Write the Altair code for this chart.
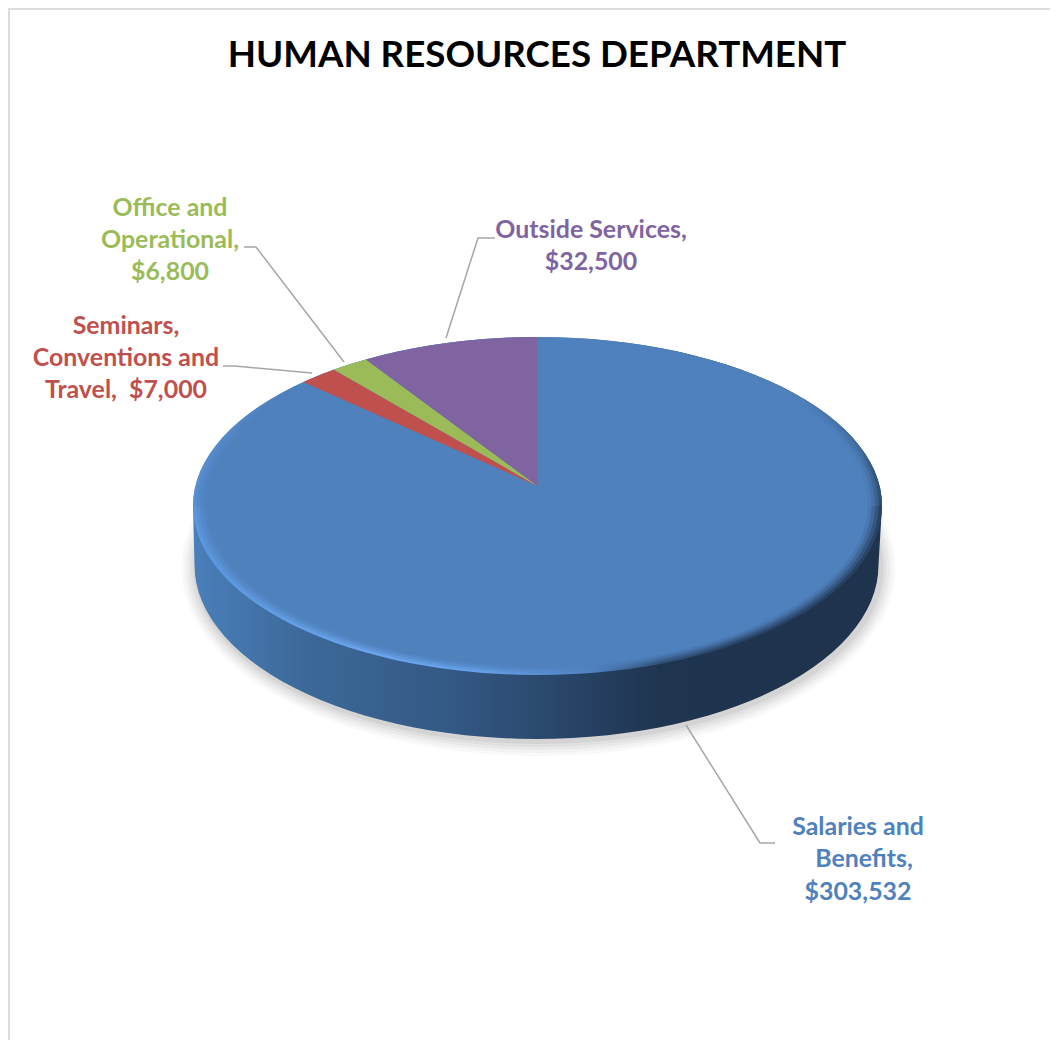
import math
import altair as alt
import pandas as pd

TITLE = "HUMAN RESOURCES DEPARTMENT"
# clockwise from 12 o'clock
categories = ["Salaries and Benefits", "Seminars, Conventions and Travel", "Office and Operational", "Outside Services"]
values = [303532, 7000, 6800, 32500]
colors = ["#4f81bd", "#c0504d", "#9bbb59", "#8064a2"]

label_lines = [
    ["Salaries and", "Benefits,", "$303,532"],
    ["Seminars,", "Conventions and", "Travel, \u00a0$7,000"],
    ["Office and", "Operational,", "$6,800"],
    ["Outside Services,", "$32,500"],
]
label_x = [[858, 864, 858], [126, 126, 126], [170, 170, 170], [591, 591]]
label_y = [[828, 860, 893], [327, 359, 391], [209, 241, 273], [231, 263]]
leaders = [
    [(686, 725), (760, 843), (775, 843)],
    [(223, 366), (235, 366), (312, 373)],
    [(244, 247), (256, 247), (344, 362)],
    [(495, 238), (478, 238), (446, 338)],
]

# Pie geometry: perspective view of a tilted disc
CX, APEX_Y, TOP_CY, RX, RY = 537.5, 486.0, 506.0, 344.5, 169.0
K = 0.118
A = RX * math.sqrt(1 - K * K)
B = 149.0 * (1 + K)
DEPTH_CY, DEPTH_RX, DEPTH_RY = 565.0, 342.0, 174.0


def project(angle_deg, r=1.0):
    a = math.radians(angle_deg)
    u, v = r * math.sin(a), r * math.cos(a)
    d = 1 + K * v
    return CX + A * u / d, APEX_Y - B * v / d


def ellipse(cx, cy, rx, ry, start=0, stop=360, step=3):
    pts = []
    t = start
    while t <= stop:
        pts.append((cx + rx * math.cos(math.radians(t)), cy + ry * math.sin(math.radians(t))))
        t += step
    return pts


def frame(pts):
    return pd.DataFrame({"x": [p[0] for p in pts], "y": [p[1] for p in pts], "i": range(len(pts))})


xs = alt.Scale(domain=[8, 1051], nice=False, zero=False)
ys = alt.Scale(domain=[1041, 8], nice=False, zero=False)
X = alt.X("x:Q", scale=xs, axis=None)
Y = alt.Y("y:Q", scale=ys, axis=None)


def poly(pts, color, opacity=1.0):
    return alt.Chart(frame(pts)).mark_line(
        filled=True, color=color, opacity=opacity, strokeWidth=0
    ).encode(x=X, y=Y, order="i:Q")


def stop(o, c):
    return alt.GradientStop(offset=o, color=c)


layers = []

# page frame lines
layers.append(alt.Chart(frame([(9, 1040), (9, 9), (1050, 9)])).mark_line(
    color="#dcdcdc", strokeWidth=2).encode(x=X, y=Y, order="i:Q"))

# title
layers.append(alt.Chart(pd.DataFrame({"x": [537], "y": [56], "t": [TITLE]})).mark_text(
    font="Lato", fontWeight="bold", fontSize=36.7, color="#000000", align="center", baseline="middle"
).encode(x=X, y=Y, text="t:N"))

# soft drop shadow
for grow, op in [(12, 0.05), (9, 0.06), (6, 0.07), (3, 0.09), (0, 0.12)]:
    layers.append(poly(ellipse(CX + 1, DEPTH_CY + 3, DEPTH_RX + 3 + grow, DEPTH_RY + 2 + grow), "#808080", op))

# side wall
wall = (
    [(CX + RX, TOP_CY)]
    + ellipse(CX - 1, DEPTH_CY, DEPTH_RX, DEPTH_RY, 0, 180)
    + [(CX - RX, TOP_CY)]
)
layers.append(poly(wall, alt.Gradient(
    gradient="linear", x1=0, x2=1, y1=0, y2=0,
    stops=[stop(0, "#4a7fbb"), stop(0.16, "#3c6999"), stop(0.36, "#345a86"),
           stop(0.55, "#284467"), stop(0.68, "#1f344f"), stop(1, "#1f334d")])))

# bevelled rim of the top face: lower half
layers.append(poly(ellipse(CX, TOP_CY, RX, RY), alt.Gradient(
    gradient="linear", x1=0, y1=0.5, x2=1, y2=0.5,
    stops=[stop(0, "#5f9be2"), stop(0.25, "#70adf8"), stop(0.42, "#6aa7f2"), stop(0.58, "#4f82c0"),
           stop(0.68, "#2a4768"), stop(0.8, "#1f344f"), stop(1, "#1f344f")])))
# ... upper half has almost no rim
layers.append(poly(ellipse(CX, TOP_CY, RX, RY, 180, 360), alt.Gradient(
    gradient="linear", x1=0, y1=0.5, x2=1, y2=0.5,
    stops=[stop(0, "#5a92d8"), stop(0.12, "#4f81bd"), stop(0.88, "#4f81bd"),
           stop(0.97, "#3d6492"), stop(1, "#263f5e")])))

# slices
total = sum(values)
wedges = []
angle = 0.0
for name, v in zip(categories, values):
    sweep = 360.0 * v / total
    wedges.append((name, angle, angle + sweep))
    angle += sweep


def wedge_pts(start, end, r=1.0):
    n = max(2, int((end - start) / 2))
    return [(CX, APEX_Y)] + [project(start + (end - start) * j / n, r) for j in range(n + 1)]


# Salaries slice fades in over the rim
name, s, e = wedges[0]
for r, op in [(1.0, 0.2), (0.99, 0.3), (0.98, 0.45), (0.97, 0.65), (0.96, 1.0)]:
    layers.append(poly(wedge_pts(s, e, r), colors[0], op))
for (name, s, e), col in list(zip(wedges, colors))[1:]:
    layers.append(poly(wedge_pts(s, e), col))

# leader lines
for pts in leaders:
    layers.append(alt.Chart(frame(pts)).mark_line(color="#a6a6a6", strokeWidth=1.5).encode(x=X, y=Y, order="i:Q"))

# labels
for lines, lxs, lys, col in zip(label_lines, label_x, label_y, colors):
    df = pd.DataFrame({"x": lxs, "y": lys, "t": lines})
    layers.append(alt.Chart(df).mark_text(
        font="Lato", fontWeight="bold", fontSize=24.9, color=col, align="center", baseline="middle"
    ).encode(x=X, y=Y, text="t:N"))

chart = alt.layer(*layers).properties(
    width=1043,
    height=1033,
    padding=0,
    autosize=alt.AutoSizeParams(type="none"),
).configure_view(stroke=None)

chart.save("out.html", embed_options={"renderer": "svg", "actions": False})
